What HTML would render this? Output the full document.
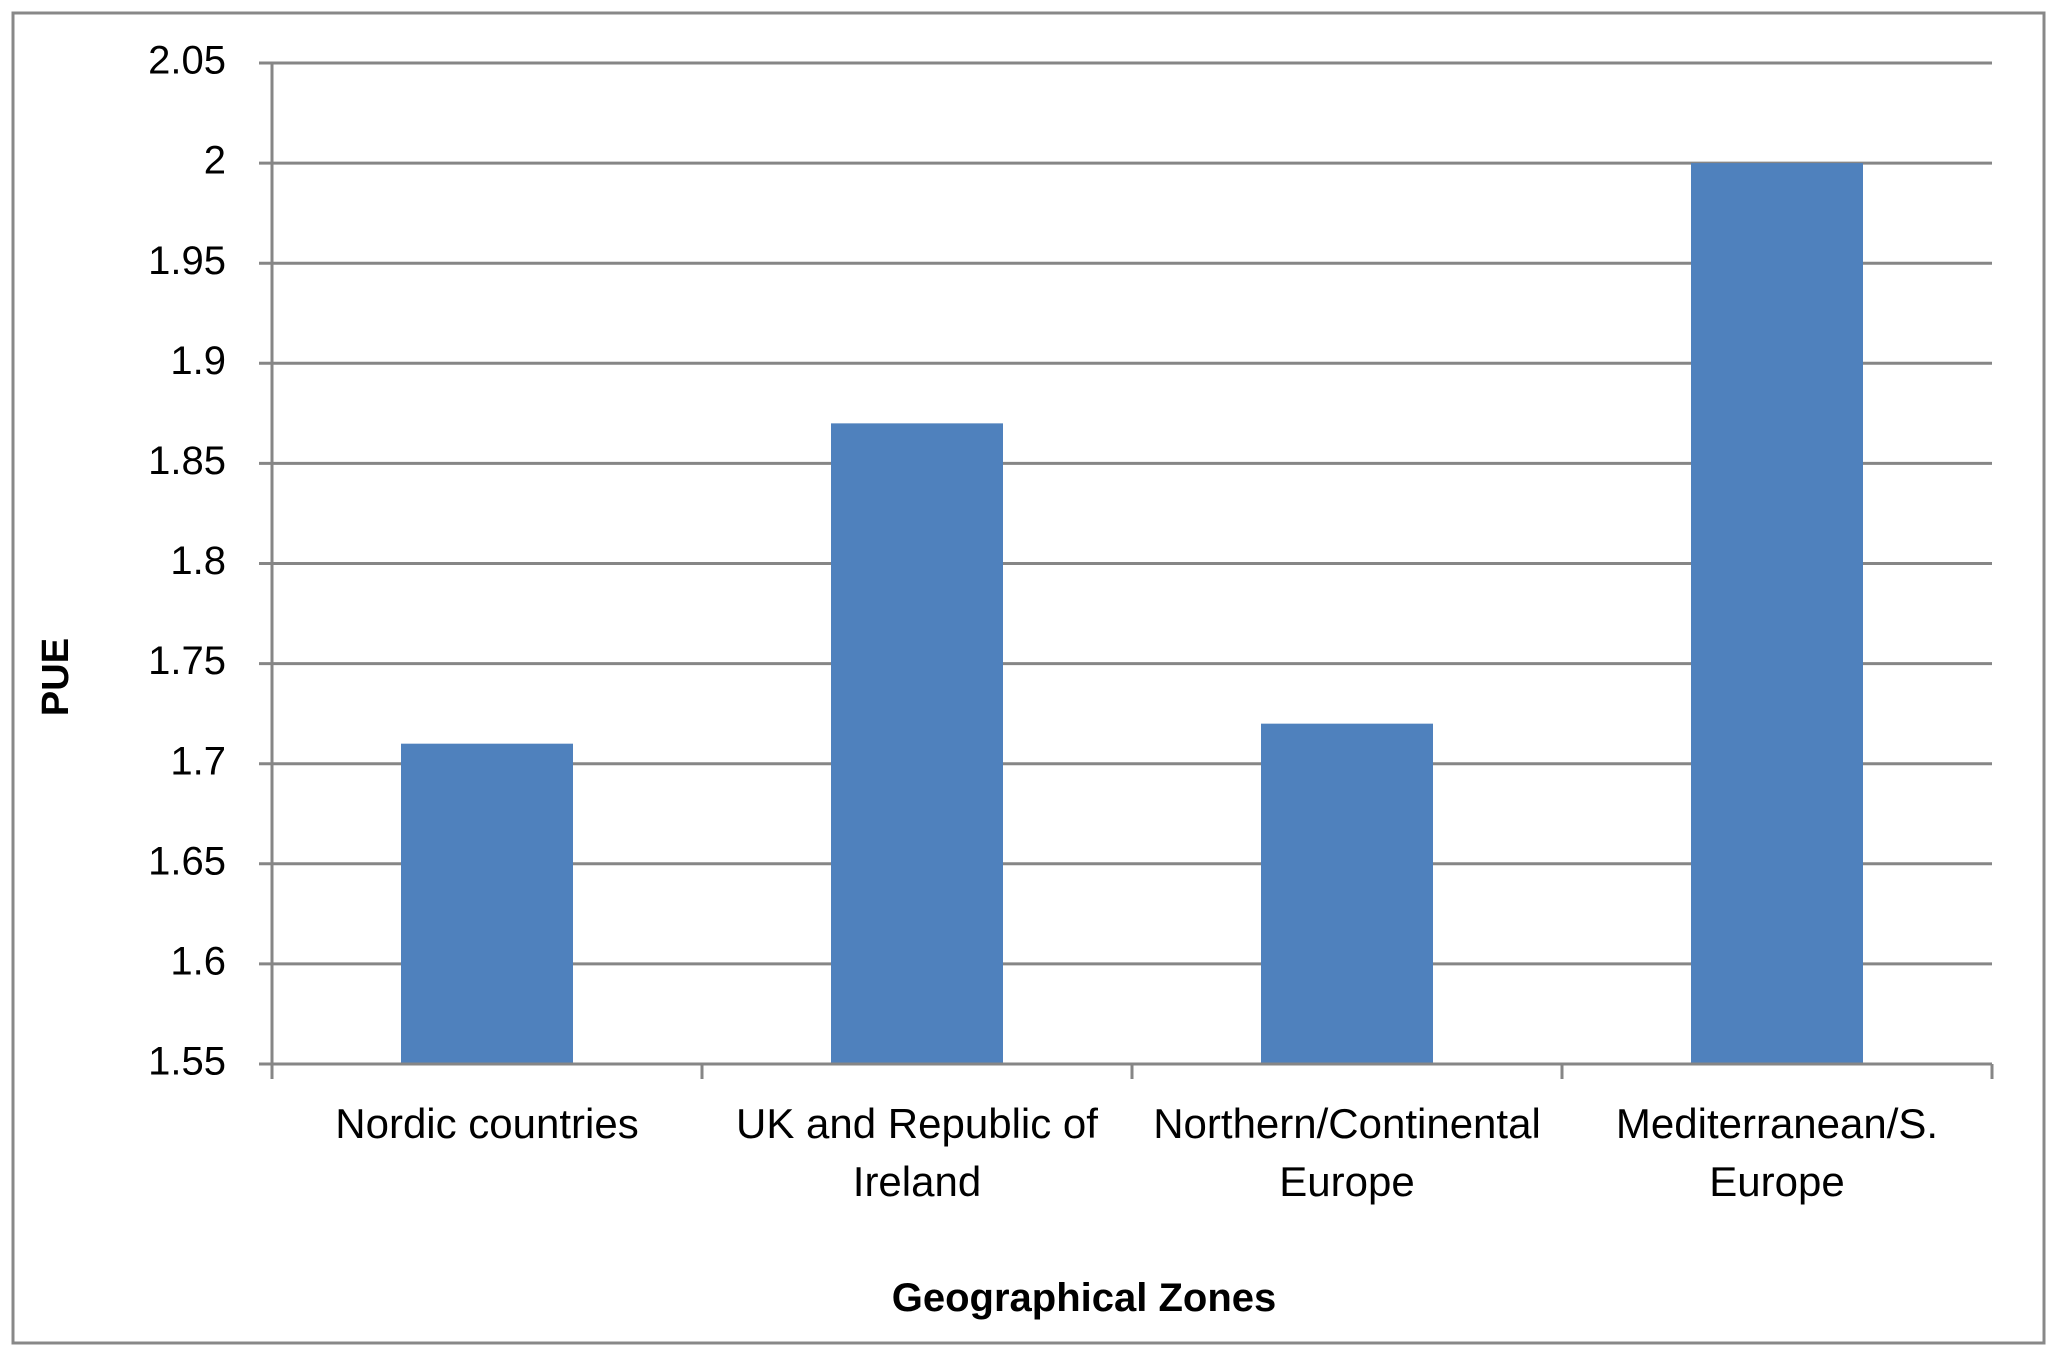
<!DOCTYPE html>
<html><head><meta charset="utf-8"><style>
html,body{margin:0;padding:0;background:#fff}
svg{display:block}
text{font-family:"Liberation Sans",sans-serif;fill:#000}
</style></head><body>
<svg id="chart" width="2058" height="1358" viewBox="0 0 2058 1358">
<rect x="13" y="13" width="2031" height="1330" fill="#fff" stroke="#888" stroke-width="3"/>
<g id="grid"></g>
<g id="bars"></g>
<g id="axes"></g>
<text x="58" y="677" font-size="38" font-weight="bold" text-anchor="middle" transform="rotate(-90 58 677)" dominant-baseline="middle">PUE</text>
<text x="1084" y="1311" font-size="40" font-weight="bold" text-anchor="middle">Geographical Zones</text>
</svg>
<script>
const categories = [["Nordic countries"],["UK and Republic of","Ireland"],["Northern/Continental","Europe"],["Mediterranean/S.","Europe"]];
const values = [1.71, 1.87, 1.72, 2.0];
const yTicks = [1.55,1.6,1.65,1.7,1.75,1.8,1.85,1.9,1.95,2,2.05];
const yTickLabels = ["1.55","1.6","1.65","1.7","1.75","1.8","1.85","1.9","1.95","2","2.05"];

const NS="http://www.w3.org/2000/svg";
const L=272,R=1992,T=63,B=1064,yMin=1.55,yMax=2.05;
const y=v=>B-(v-yMin)/(yMax-yMin)*(B-T);
const bandW=(R-L)/categories.length;
const x=i=>L+i*bandW;
function mk(tag,attrs,parent){const e=document.createElementNS(NS,tag);for(const k in attrs)e.setAttribute(k,attrs[k]);parent.appendChild(e);return e;}
const grid=document.getElementById('grid'),bars=document.getElementById('bars'),axes=document.getElementById('axes');
yTicks.forEach((v,i)=>{
  const ln=mk('line',{x1:259,x2:R,y1:y(v),y2:y(v),stroke:'#868686','stroke-width':3},grid);
  
  
  const t=mk('text',{x:226,y:y(v),'font-size':40,'text-anchor':'end','dominant-baseline':'middle'},axes);
  t.textContent=yTickLabels[i];
  
  
});
values.forEach((v,i)=>{
  const w=bandW*0.4;
  const r=mk('rect',{x:x(i)+(bandW-w)/2,y:y(v),width:w,height:B-y(v),fill:'#4F81BD'},bars);
  
  
});
const ya=mk('line',{x1:L,x2:L,y1:T,y2:B,stroke:'#868686','stroke-width':3},axes);


const xa=mk('line',{x1:L,x2:R,y1:B,y2:B,stroke:'#868686','stroke-width':3},axes);


for(let i=0;i<=categories.length;i++){
  const tk=mk('line',{x1:x(i),x2:x(i),y1:B,y2:B+15,stroke:'#868686','stroke-width':3},axes);
  
  
}
categories.forEach((lines,i)=>{
  lines.forEach((s,j)=>{
    const t=mk('text',{x:x(i)+bandW/2,y:1127+j*58,'font-size':42,'text-anchor':'middle','dominant-baseline':'middle'},axes);
    t.textContent=s;
    
    
  });
});
</script>
</body></html>
